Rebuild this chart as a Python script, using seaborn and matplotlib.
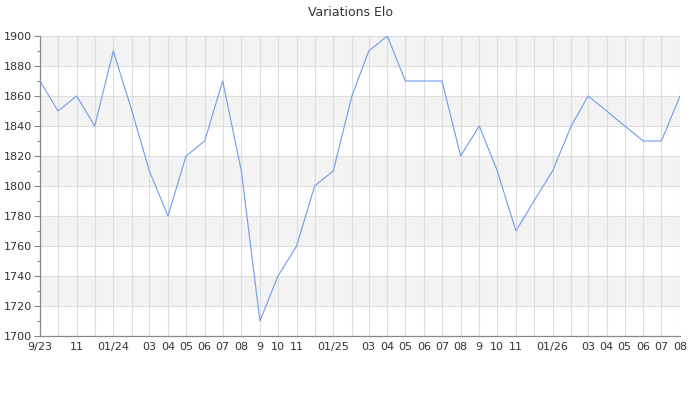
import numpy as np
import pandas as pd
import matplotlib
matplotlib.use("Agg")
import matplotlib.pyplot as plt
import seaborn as sns

# monthly Elo values, Sep 2023 -> Aug 2026
months = pd.date_range("2023-09-01", periods=36, freq="MS")
elo = [1870, 1850, 1860, 1840, 1890, 1850, 1810, 1780, 1820, 1830, 1870, 1810,
       1710, 1740, 1760, 1800, 1810, 1860, 1890, 1900, 1870, 1870, 1870, 1820,
       1840, 1810, 1770, 1790, 1810, 1840, 1860, 1850, 1840, 1830, 1830, 1860]
month_labels = ["9/23", "", "11", "", "01/24", "", "03", "04", "05", "06", "07", "08",
                "9", "10", "11", "", "01/25", "", "03", "04", "05", "06", "07", "08",
                "9", "10", "11", "", "01/26", "", "03", "04", "05", "06", "07", "08"]
y_ticks = [1700, 1720, 1740, 1760, 1780, 1800, 1820, 1840, 1860, 1880, 1900]

df = pd.DataFrame({"month": months, "elo": elo})

sns.set_style("white")
plt.rcParams['font.family'] = ['DejaVu Sans']

fig = plt.figure(figsize=(7, 4), dpi=100)
ax = fig.add_axes([40/700, 64/400, 640/700, 300/400])

# alternating grey bands
for lo, hi in zip(y_ticks[1::2], y_ticks[2::2]):
    ax.axhspan(lo, hi, color="#f3f3f3", zorder=0, lw=0)

sns.lineplot(data=df, x="month", y="elo", ax=ax, color="#6f9bee", lw=0.8, zorder=3)

ax.set_xlim(months[0], months[-1])
ax.set_ylim(1700, 1900)
ax.set_yticks(y_ticks)
ax.set_yticks(np.arange(1710, 1900, 20), minor=True)
ax.set_xticks(months)
ax.set_xticklabels(month_labels)

ax.grid(True, which="major", color="#dddddd", lw=0.8, zorder=1)
ax.set_axisbelow(True)

for s in ["top", "right"]:
    ax.spines[s].set_visible(False)
for s in ["left", "bottom"]:
    ax.spines[s].set_color("#888888")
    ax.spines[s].set_linewidth(0.9)

ax.tick_params(axis="y", which="major", length=4, width=0.8, color="#888888",
               labelsize=8, labelcolor="#333333", pad=2, left=True)
ax.tick_params(axis="y", which="minor", length=2.5, width=0.8, color="#888888", left=True)
ax.tick_params(axis="x", length=0, labelsize=8, labelcolor="#333333", pad=4)

ax.set_xlabel("")
ax.set_ylabel("")

fig.text(0.5, 1 - 12/400, "Variations Elo", ha="center", va="center",
         fontsize=9, color="#333333")

fig.savefig("out.png", dpi=100)
